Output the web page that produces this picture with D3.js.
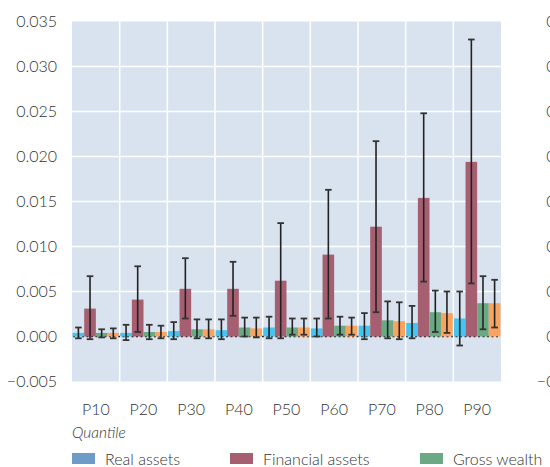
<!DOCTYPE html>
<html><head><meta charset="utf-8">
<script src="https://cdn.jsdelivr.net/npm/d3@7"></script>
<style>body{margin:0;background:#fff}svg{display:block}text{font-family:Lato,"Open Sans",sans-serif;font-weight:300;fill:#333}</style>
</head><body><svg id="c" width="550" height="467"></svg>
<script>
const categories = ["P10","P20","P30","P40","P50","P60","P70","P80","P90"];
const seriesNames = ["Real assets","Financial assets","Gross wealth","Net wealth"];
const realAssets      = [0.0004,0.0004,0.0006,0.0007,0.0010,0.0009,0.0012,0.0015,0.0020];
const realLow         = [-0.0002,-0.0004,-0.0003,-0.0003,-0.0002,0.0000,-0.0003,-0.0002,-0.0010];
const realHigh        = [0.0010,0.0013,0.0016,0.0019,0.0022,0.0020,0.0026,0.0034,0.0050];
const financialAssets = [0.0031,0.0041,0.0053,0.0053,0.0062,0.0091,0.0122,0.0154,0.0194];
const financialLow    = [-0.0003,0.0005,0.0020,0.0023,-0.0002,0.0020,0.0027,0.0061,0.0059];
const financialHigh   = [0.0067,0.0078,0.0087,0.0083,0.0126,0.0163,0.0217,0.0248,0.0330];
const grossWealth     = [0.0004,0.0005,0.0008,0.0010,0.0010,0.0012,0.0018,0.0027,0.0037];
const grossLow        = [-0.0001,-0.0003,-0.0002,0.0000,0.0002,0.0002,-0.0002,0.0005,0.0008];
const grossHigh       = [0.0008,0.0013,0.0019,0.0021,0.0020,0.0022,0.0039,0.0051,0.0067];
const netWealth       = [0.0004,0.0005,0.0008,0.0009,0.0010,0.0012,0.0017,0.0026,0.0037];
const netLow          = [-0.0002,-0.0002,-0.0002,-0.0001,0.0002,0.0002,-0.0003,0.0004,0.0010];
const netHigh         = [0.0009,0.0012,0.0019,0.0021,0.0020,0.0021,0.0038,0.0050,0.0063];
const yTicks = [-0.005,0,0.005,0.010,0.015,0.020,0.025,0.030,0.035];
const xTitle = "Quantile";

const barColors = ["#45c4f0","#a65f70","#6ba984","#f9a35f"];
const legendColors = ["#6e9bc8","#a65f70","#6ba984","#f9a35f"];

const series = [
  {v:realAssets,lo:realLow,hi:realHigh},
  {v:financialAssets,lo:financialLow,hi:financialHigh},
  {v:grossWealth,lo:grossLow,hi:grossHigh},
  {v:netWealth,lo:netLow,hi:netHigh}
];

const svg = d3.select("#c");
const L=72, R=501, T=21.5, B=381.5;
const x = d3.scaleBand().domain(categories).range([L,R]).paddingInner(0).paddingOuter(0);
const xi = d3.scaleBand().domain(d3.range(4)).range([0,x.bandwidth()]).paddingOuter(0.05).paddingInner(0);
const y = d3.scaleLinear().domain([-0.005,0.035]).range([B,T]);

svg.append("rect").attr("x",L).attr("y",T).attr("width",R-L).attr("height",B-T).attr("fill","#d9e3ef");
svg.append("g").selectAll("line").data(yTicks.filter(d=>d>-0.005&&d<0.035&&d!==0)).join("line")
  .attr("x1",L).attr("x2",R).attr("y1",d=>y(d)).attr("y2",d=>y(d)).attr("stroke","#fff").attr("stroke-width",1.5);
svg.append("g").selectAll("line").data(categories.slice(1)).join("line")
  .attr("x1",d=>x(d)).attr("x2",d=>x(d)).attr("y1",T).attr("y2",B).attr("stroke","#fff").attr("stroke-width",1.5);
svg.append("line").attr("x1",L+1).attr("x2",R-2).attr("y1",y(0)).attr("y2",y(0))
  .attr("stroke","#111").attr("stroke-width",1.5).attr("stroke-dasharray","2,2.5");

series.forEach((s,si)=>{
  svg.append("g").selectAll("rect").data(categories).join("rect")
    .attr("x",(c)=>x(c)+xi(si)).attr("width",xi.bandwidth())
    .attr("y",(c,i)=>y(Math.max(0,s.v[i]))).attr("height",(c,i)=>Math.abs(y(s.v[i])-y(0)))
    .attr("fill",barColors[si]);
});
series.forEach((s,si)=>{
  const g = svg.append("g");
  categories.forEach((c,i)=>{
    const cx = x(c)+xi(si)+xi.bandwidth()/2;
    g.append("line").attr("x1",cx).attr("x2",cx).attr("y1",y(s.lo[i])).attr("y2",y(s.hi[i]))
      .attr("stroke","#222").attr("stroke-width",1.6);
    [s.lo[i],s.hi[i]].forEach(v=>{
      g.append("line").attr("x1",cx-3.3).attr("x2",cx+3.3).attr("y1",y(v)).attr("y2",y(v))
        .attr("stroke","#333").attr("stroke-width",1.8);
    });
  });
});

const fmt = d=> (d<0?"\u2212":"") + Math.abs(d).toFixed(3);
svg.append("g").selectAll("text").data(yTicks).join("text")
  .attr("x",57).attr("y",d=>y(d)).attr("dy","0.35em").attr("text-anchor","end")
  .attr("font-size",16).text(fmt);
// y labels of the neighbouring chart, cut off by the right edge as in the reference
svg.append("g").selectAll("text").data(yTicks).join("text")
  .attr("x",587).attr("y",d=>y(d)).attr("dy","0.35em").attr("text-anchor","end")
  .attr("font-size",16).text(fmt);

svg.append("g").selectAll("text").data(categories).join("text")
  .attr("x",d=>x(d)+x.bandwidth()/2).attr("y",415).attr("text-anchor","middle")
  .attr("font-size",16).text(d=>d);
svg.append("text").attr("x",72).attr("y",438).attr("font-size",15.5).attr("font-style","italic").text(xTitle);

const legX = [72,230,420,610];
seriesNames.forEach((n,i)=>{
  svg.append("rect").attr("x",legX[i]).attr("y",453).attr("width",23).attr("height",11).attr("fill",legendColors[i]);
  svg.append("text").attr("x",legX[i]+33).attr("y",465).attr("font-size",16).text(n);
});
</script></body></html>
